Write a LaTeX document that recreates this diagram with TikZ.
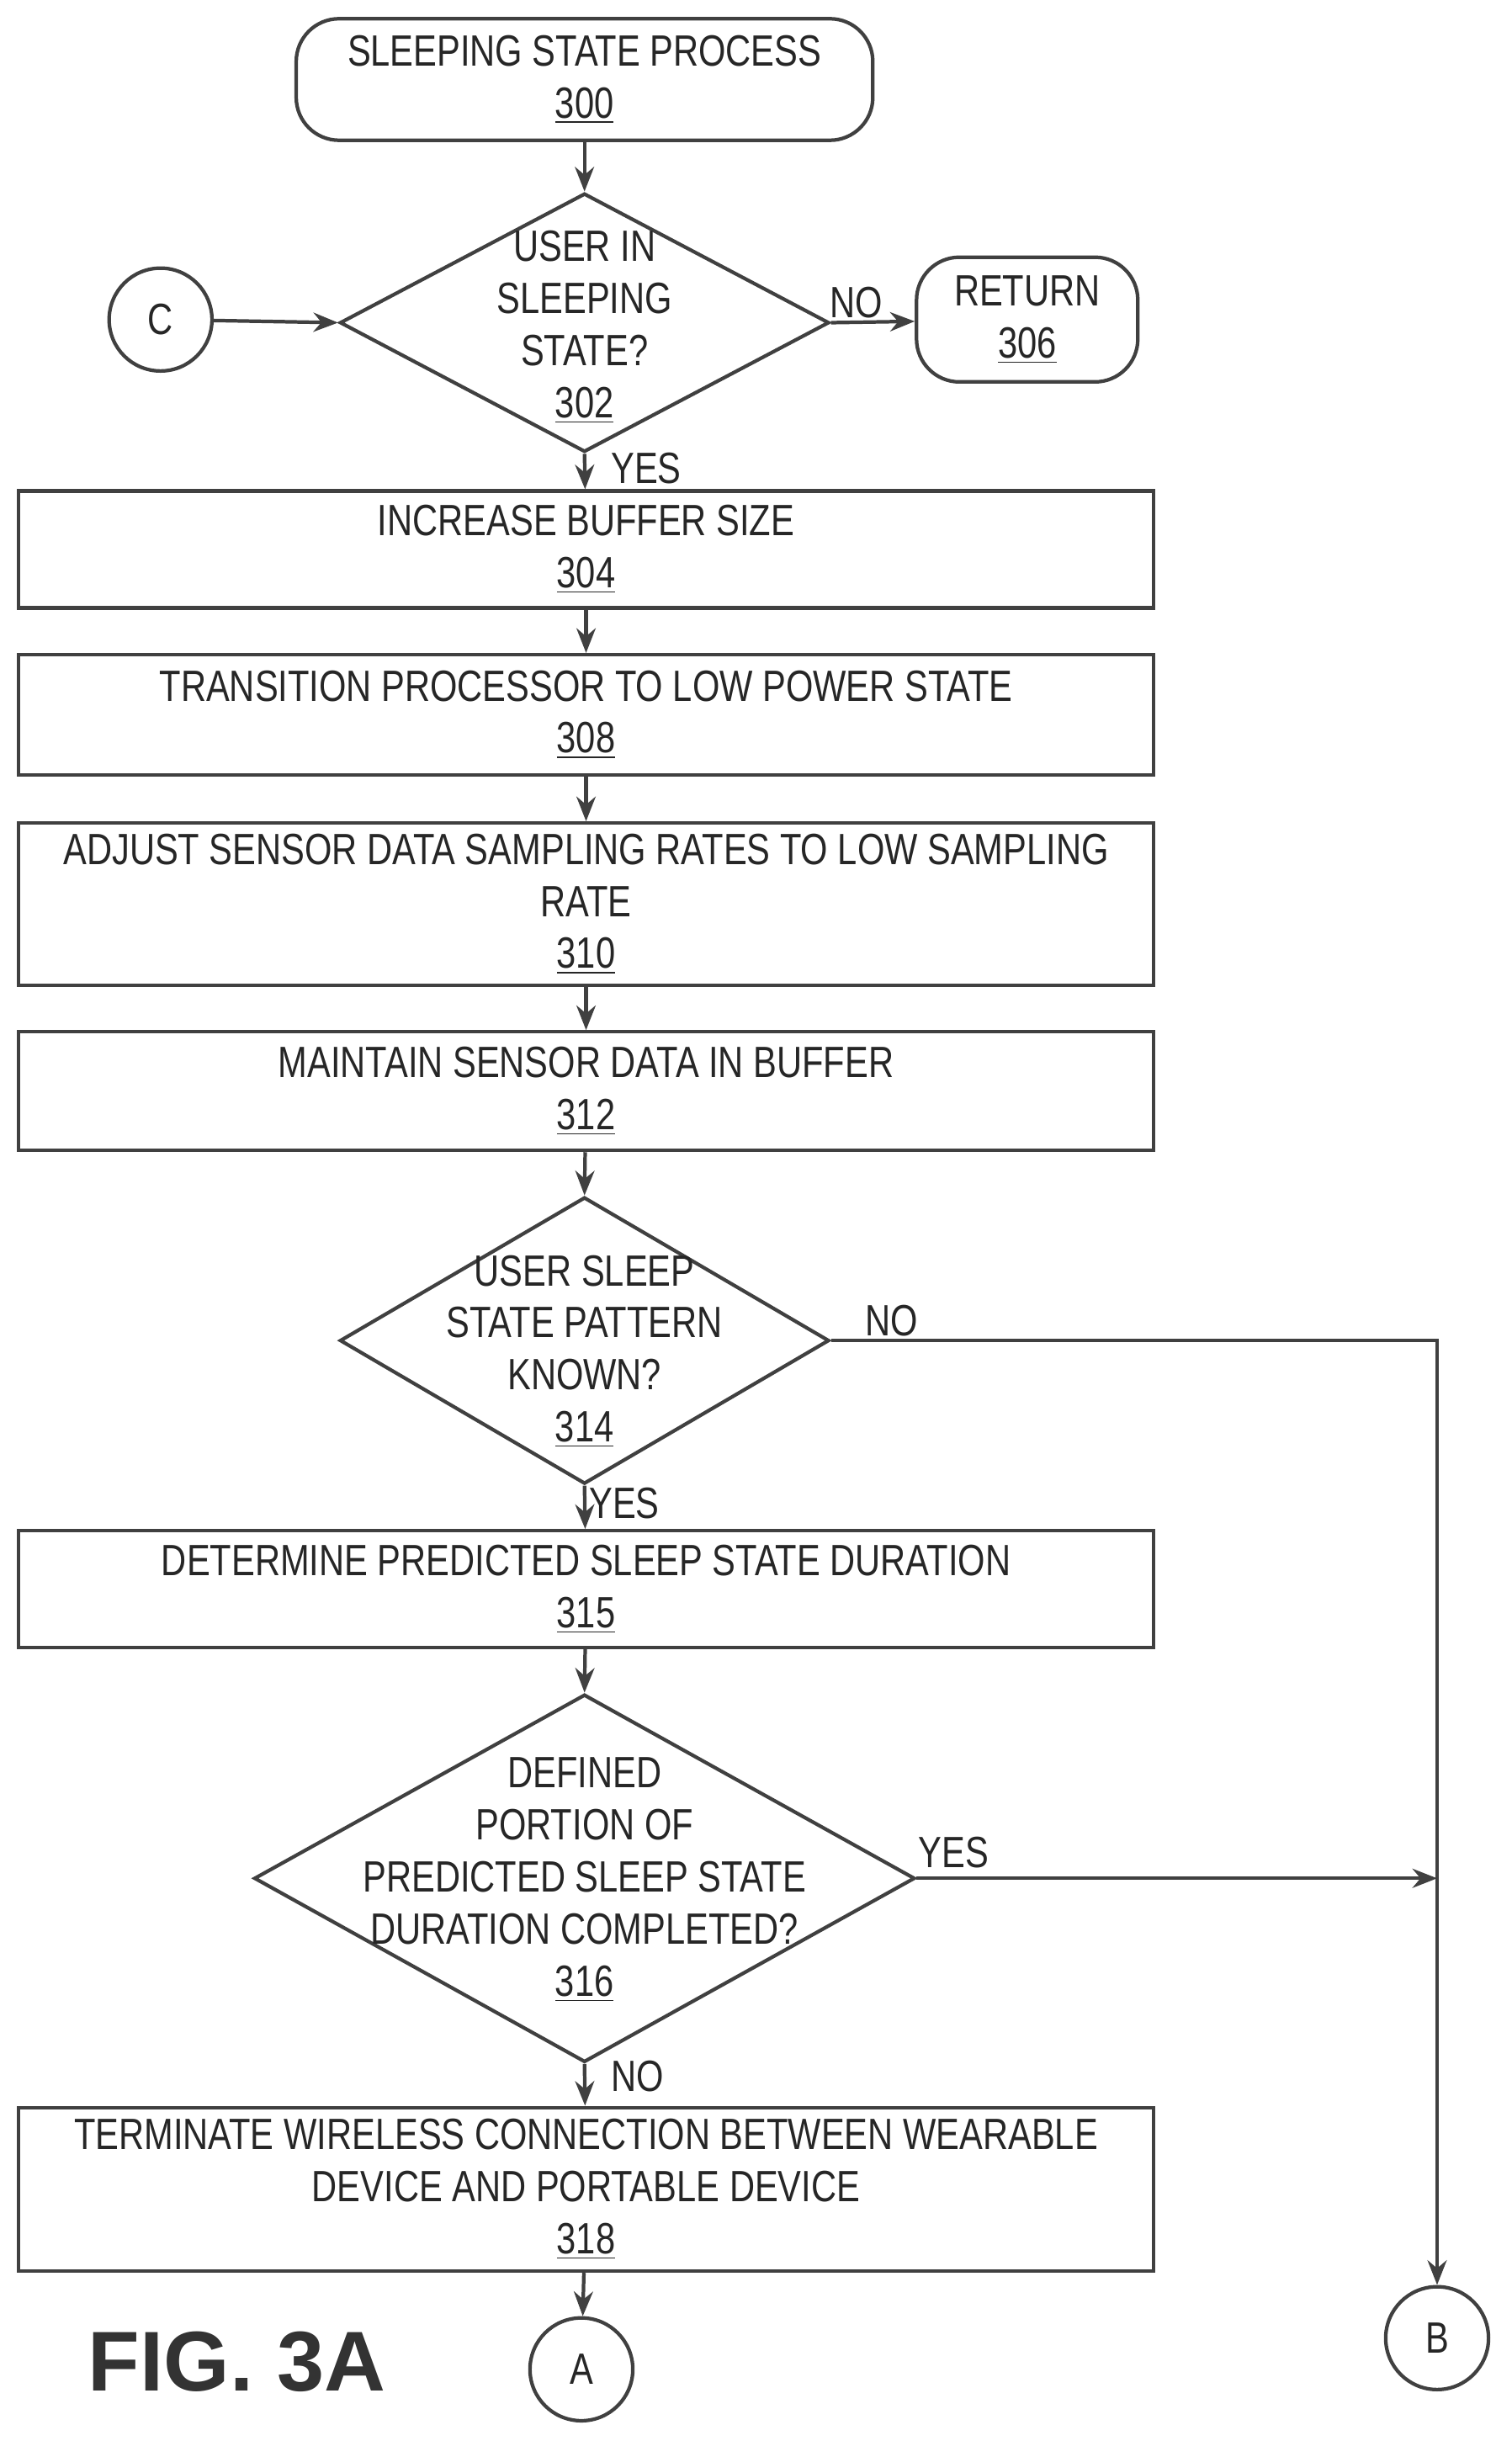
\documentclass[tikz,border=0pt]{standalone}
\usepackage{fontspec}
\setmainfont{Liberation Sans}[FakeStretch=0.8]
\newfontfamily\figfont{Liberation Sans}
\usetikzlibrary{shapes.geometric,arrows.meta}
\begin{document}
\begin{tikzpicture}[x=0.02cm,y=-0.02cm,
  every node/.style={font=\fontsize{16}{19}\selectfont, text=black!85},
  line/.style={draw=black!75, line width=1.3pt},
  box/.style={line, rectangle, minimum width=14.56cm, align=center, inner sep=0pt},
  term/.style={line, rectangle, rounded corners=0.55cm, align=center},
  dia/.style={line, diamond, inner sep=0pt},
  circ/.style={line, circle, minimum size=1.32cm, inner sep=0pt},
  arr/.style={line, -{Stealth[length=9pt,width=7pt]}},
  lbl/.style={inner sep=1pt}]
\useasboundingbox (0,0) rectangle (970,1566);
\node[term, minimum width=7.4cm, minimum height=1.56cm] (s) at (375,51) {SLEEPING STATE PROCESS\\\underline{300}};
\node[dia, minimum width=6.28cm, minimum height=3.32cm] (d302) at (375,207) {};
\node[align=center] (t302) at (375,210) {USER IN\\SLEEPING\\STATE?\\\underline{302}};
\node[circ] (c) at (103,205) {C};
\node[term, minimum width=2.84cm, minimum height=1.6cm] (r) at (659,205) {RETURN\\\underline{306}};
\node[box, minimum height=1.5cm] (b304) at (376,352.5) {INCREASE BUFFER SIZE\\\underline{304}};
\node[box, minimum height=1.54cm] (b308) at (376,458.5) {TRANSITION PROCESSOR TO LOW POWER STATE\\\underline{308}};
\node[box, minimum height=2.08cm] (b310) at (376,580) {ADJUST SENSOR DATA SAMPLING RATES TO LOW SAMPLING\\RATE\\\underline{310}};
\node[box, minimum height=1.52cm] (b312) at (376,700) {MAINTAIN SENSOR DATA IN BUFFER\\\underline{312}};
\node[dia, minimum width=6.28cm, minimum height=3.68cm] (d314) at (375,860) {};
\node[align=center] (t314) at (375,867) {USER SLEEP\\STATE PATTERN\\KNOWN?\\\underline{314}};
\node[box, minimum height=1.5cm] (b315) at (376,1019.5) {DETERMINE PREDICTED SLEEP STATE DURATION\\\underline{315}};
\node[dia, minimum width=8.48cm, minimum height=4.72cm] (d316) at (375,1205) {};
\node[align=center] (t316) at (375,1206) {DEFINED\\PORTION OF\\PREDICTED SLEEP STATE\\DURATION COMPLETED?\\\underline{316}};
\node[box, minimum height=2.1cm] (b318) at (376,1404.5) {TERMINATE WIRELESS CONNECTION BETWEEN WEARABLE\\DEVICE AND PORTABLE DEVICE\\\underline{318}};
\node[circ] (a) at (373,1520) {A};
\node[circ] (b) at (922,1500) {B};
\coordinate (k1) at (922,860);
\coordinate (k2) at (922,1205);
\node[font=\figfont\fontsize{31}{36}\selectfont\bfseries, text=black!80] (fig) at (152,1515) {FIG. 3A};
\draw[arr] (s) -- (d302.north);
\draw[arr] (c) -- (d302.west);
\draw[arr] (d302.east) -- node[lbl, above, pos=0.3] {NO} (r);
\draw[arr] (d302.south) -- node[lbl, right, pos=0.4, xshift=8pt] {YES} (b304);
\draw[arr] (b304) -- (b308);
\draw[arr] (b308) -- (b310);
\draw[arr] (b310) -- (b312);
\draw[arr] (b312) -- (d314.north);
\draw[arr] (d314.east) -- node[lbl, above, pos=0.1] {NO} (k1) -- (b);
\draw[arr] (d314.south) -- node[lbl, right, pos=0.4] {YES} (b315);
\draw[arr] (b315) -- (d316.north);
\draw[arr] (d316.east) -- node[lbl, above, pos=0.05, xshift=4pt, yshift=2pt] {YES} (k2);
\draw[arr] (d316.south) -- node[lbl, right, pos=0.3, xshift=8pt] {NO} (b318);
\draw[arr] (b318) -- (a);
\end{tikzpicture}
\end{document}
